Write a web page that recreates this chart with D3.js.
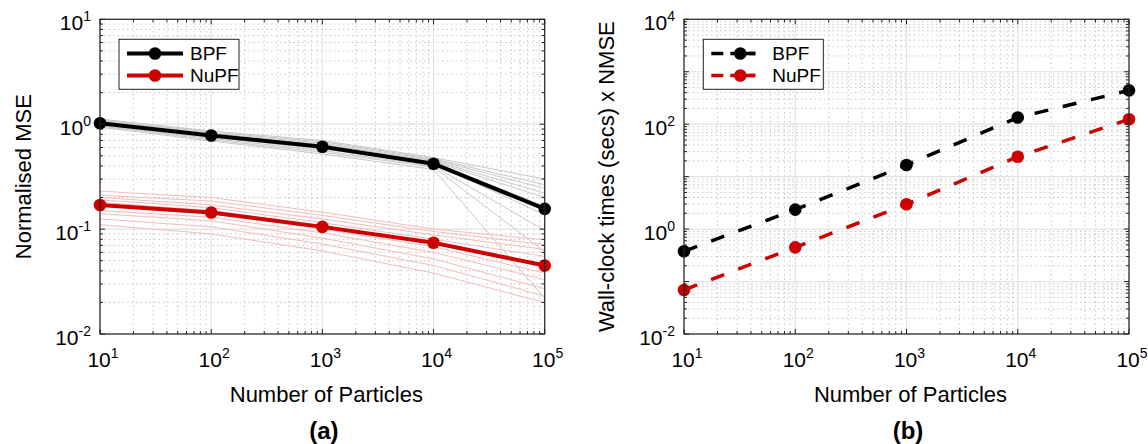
<!DOCTYPE html>
<html><head><meta charset="utf-8">
<script src="https://cdn.jsdelivr.net/npm/d3@7"></script>
<style>body{margin:0;background:#fff}svg{display:block}text{font-family:"Liberation Sans",Arial,sans-serif;fill:#000}</style>
</head><body><svg id="c" width="1148" height="444"></svg>
<script>
// ---------- data ----------
const particles = [10, 100, 1000, 10000, 100000];
const xTickExps = [1, 2, 3, 4, 5];
const yTickExpsA = [-2, -1, 0, 1];
const yTickExpsB = [-2, 0, 2, 4];
const seriesNames = ["BPF", "NuPF"];

// panel (a): mean normalised MSE
const bpfMSE  = [1.02, 0.78, 0.61, 0.42, 0.156];
const nupfMSE = [0.170, 0.144, 0.105, 0.074, 0.045];
// panel (a): individual runs (thin lines)
const bpfRuns = [
  [1.12, 0.86, 0.70, 0.48, 0.30],
  [1.10, 0.84, 0.68, 0.47, 0.265],
  [1.08, 0.82, 0.66, 0.46, 0.245],
  [1.06, 0.80, 0.64, 0.45, 0.22],
  [1.04, 0.78, 0.62, 0.44, 0.20],
  [1.02, 0.77, 0.60, 0.43, 0.165],
  [1.00, 0.75, 0.58, 0.42, 0.137],
  [0.98, 0.73, 0.56, 0.40, 0.097],
  [0.96, 0.71, 0.54, 0.39, 0.061],
  [0.94, 0.69, 0.52, 0.37, 0.022]
];
const nupfRuns = [
  [0.23, 0.20, 0.145, 0.100, 0.079],
  [0.21, 0.185, 0.135, 0.095, 0.071],
  [0.20, 0.17, 0.125, 0.088, 0.064],
  [0.19, 0.16, 0.115, 0.080, 0.055],
  [0.18, 0.15, 0.108, 0.075, 0.044],
  [0.165, 0.14, 0.100, 0.068, 0.038],
  [0.15, 0.13, 0.092, 0.060, 0.033],
  [0.14, 0.12, 0.082, 0.052, 0.027],
  [0.125, 0.105, 0.072, 0.045, 0.023],
  [0.11, 0.09, 0.062, 0.038, 0.020]
];
// panel (b): wall-clock time x NMSE
const bpfCost  = [0.377, 2.35, 16.7, 134, 441];
const nupfCost = [0.069, 0.449, 2.97, 24.0, 124];

// ---------- drawing ----------
const svg = d3.select("#c");
const RED = "#cc0000";

function minorVals(d0, d1) {
  const out = [];
  for (let e = Math.floor(Math.log10(d0)); e < Math.ceil(Math.log10(d1)); e++)
    for (let m = 2; m <= 9; m++) { const v = m * Math.pow(10, e); if (v > d0 && v < d1) out.push(v); }
  return out;
}
function powLabel(sel, e) {
  sel.append("tspan").text("10");
  sel.append("tspan").attr("font-size", "14px").attr("dy", "-9").text(String(e));
}

function panel(opt) {
  const x = d3.scaleLog().domain([10, 1e5]).range(opt.xr);
  const y = d3.scaleLog().domain(opt.yd).range([334, 19.3]);
  const g = svg.append("g");
  const [x0, x1] = opt.xr, y0 = 334, y1 = 19.3;
  const xMin = minorVals(10, 1e5), yMin = minorVals(opt.yd[0], opt.yd[1]);
  const xMaj = xTickExps.map(e => Math.pow(10, e));
  const yMaj = d3.range(Math.log10(opt.yd[0]), Math.log10(opt.yd[1]) + 1).map(e => Math.pow(10, e));
  // minor grid
  g.selectAll(null).data(xMin).join("line").attr("x1", d => x(d)).attr("x2", d => x(d)).attr("y1", y0).attr("y2", y1)
    .attr("stroke", "#c8c8c8").attr("stroke-dasharray", "1.5,3").attr("stroke-width", 1);
  g.selectAll(null).data(yMin).join("line").attr("y1", d => y(d)).attr("y2", d => y(d)).attr("x1", x0).attr("x2", x1)
    .attr("stroke", "#c8c8c8").attr("stroke-dasharray", "1.5,3").attr("stroke-width", 1);
  // major grid
  g.selectAll(null).data(xMaj).join("line").attr("x1", d => x(d)).attr("x2", d => x(d)).attr("y1", y0).attr("y2", y1)
    .attr("stroke", "#e2e2e2").attr("stroke-width", 1.2);
  g.selectAll(null).data(yMaj).join("line").attr("y1", d => y(d)).attr("y2", d => y(d)).attr("x1", x0).attr("x2", x1)
    .attr("stroke", "#e2e2e2").attr("stroke-width", 1.2);

  const line = d3.line().x((d, i) => x(particles[i])).y(d => y(d));
  if (opt.runs) {
    opt.runs.forEach(r => g.selectAll(null).data(r.data).join("path").attr("d", d => line(d))
      .attr("fill", "none").attr("stroke", r.color).attr("stroke-width", 1));
  }
  opt.series.forEach(s => {
    g.append("path").attr("d", line(s.data)).attr("fill", "none").attr("stroke", s.color)
      .attr("stroke-width", opt.dash ? 3.5 : 4).attr("stroke-dasharray", opt.dash ? "14,15" : null);
    g.selectAll(null).data(s.data).join("circle").attr("cx", (d, i) => x(particles[i])).attr("cy", d => y(d))
      .attr("r", 6.3).attr("fill", s.color);
  });
  // box
  g.append("rect").attr("x", x0).attr("y", y1).attr("width", x1 - x0).attr("height", y0 - y1)
    .attr("fill", "none").attr("stroke", "#222").attr("stroke-width", 1.2);
  // ticks (inside, on all sides)
  const tk = [];
  xMaj.forEach(v => { tk.push([x(v), y0, x(v), y0 - 5]); tk.push([x(v), y1, x(v), y1 + 5]); });
  xMin.forEach(v => { tk.push([x(v), y0, x(v), y0 - 3]); tk.push([x(v), y1, x(v), y1 + 3]); });
  yMaj.forEach(v => { tk.push([x0, y(v), x0 + 5, y(v)]); tk.push([x1, y(v), x1 - 5, y(v)]); });
  yMin.forEach(v => { tk.push([x0, y(v), x0 + 3, y(v)]); tk.push([x1, y(v), x1 - 3, y(v)]); });
  g.selectAll(null).data(tk).join("line").attr("x1", d => d[0]).attr("y1", d => d[1]).attr("x2", d => d[2]).attr("y2", d => d[3])
    .attr("stroke", "#222").attr("stroke-width", 1);
  // tick labels
  xTickExps.forEach(e => {
    const t = g.append("text").attr("x", x(Math.pow(10, e)) + 3).attr("y", 367).attr("font-size", "21px").attr("text-anchor", "middle");
    powLabel(t, e);
  });
  opt.yTicks.forEach(e => {
    const t = g.append("text").attr("x", x0 - 9).attr("y", y(Math.pow(10, e)) + 11).attr("font-size", "21px").attr("text-anchor", "end");
    powLabel(t, e);
  });
  const cx = (x0 + x1) / 2;
  g.append("text").attr("x", cx + 4).attr("y", 402).attr("font-size", "22px").attr("text-anchor", "middle").text("Number of Particles");
  g.append("text").attr("x", cx + 1.5).attr("y", 439).attr("font-size", "24px").attr("font-weight", "bold").attr("text-anchor", "middle").text(opt.tag);
  g.append("text").attr("transform", `translate(${opt.ytx},${(y0 + y1) / 2}) rotate(-90)`).attr("font-size", "22px")
    .attr("text-anchor", "middle").text(opt.ytitle);
  // legend
  const L = opt.leg;
  g.append("rect").attr("x", L.x).attr("y", 39.3).attr("width", 120).attr("height", 50).attr("fill", "#fff").attr("stroke", "#222").attr("stroke-width", 1);
  opt.series.forEach((s, i) => {
    const ly = 53.5 + i * 22;
    g.append("line").attr("x1", L.x + L.l0).attr("x2", L.x + L.l1).attr("y1", ly).attr("y2", ly).attr("stroke", s.color)
      .attr("stroke-width", opt.dash ? 3.5 : 4).attr("stroke-dasharray", opt.dash ? "12,7" : null);
    if (opt.dash) g.append("line").attr("x1", L.x + L.m).attr("x2", L.x + L.l1).attr("y1", ly).attr("y2", ly).attr("stroke", s.color).attr("stroke-width", 3.5);
    g.append("circle").attr("cx", L.x + L.m).attr("cy", ly).attr("r", 6.3).attr("fill", s.color);
    g.append("text").attr("x", L.x + L.t).attr("y", ly + 6.5).attr("font-size", "19px").text(seriesNames[i]);
  });
}

panel({
  xr: [100, 544.7], yd: [0.01, 10], yTicks: yTickExpsA, tag: "(a)", ytitle: "Normalised MSE", ytx: 31,
  runs: [{ data: bpfRuns, color: "#c8c8c8" }, { data: nupfRuns, color: "#f3bcbc" }],
  series: [{ data: bpfMSE, color: "#000" }, { data: nupfMSE, color: RED }],
  dash: false, leg: { x: 119, l0: 8, l1: 64, m: 36, t: 71 }
});
panel({
  xr: [684, 1129], yd: [0.01, 1e4], yTicks: yTickExpsB, tag: "(b)", ytitle: "Wall-clock times (secs) x NMSE", ytx: 614,
  series: [{ data: bpfCost, color: "#000" }, { data: nupfCost, color: RED }],
  dash: true, leg: { x: 703.3, l0: 8, l1: 52, m: 37, t: 69 }
});
</script></body></html>
